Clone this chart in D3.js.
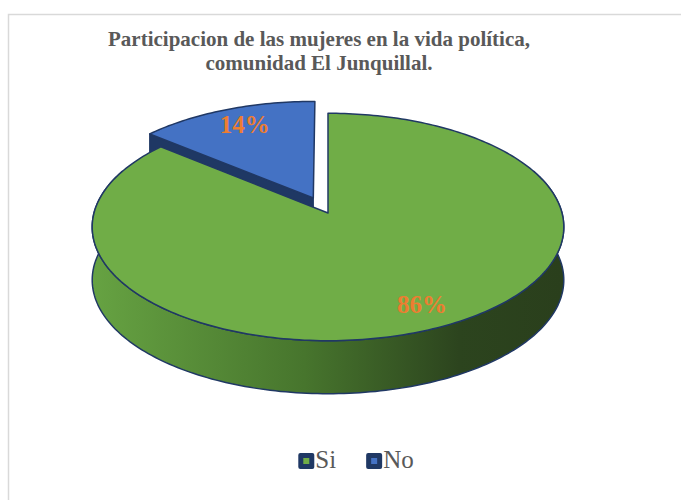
<!DOCTYPE html>
<html>
<head>
<meta charset="utf-8">
<script src="https://cdnjs.cloudflare.com/ajax/libs/d3/7.8.5/d3.min.js"></script>
<style>
	body { margin: 0; background: #fff; }
	svg { display: block; }
</style>
</head>
<body>
<script>
var categories = ["Si", "No"],
	values = [86, 14],
	labels = ["86%", "14%"],
	titleLines = ["Participacion de las mujeres en la vida política,", "comunidad El Junquillal."];

var width = 681,
	height = 500,
	cx = 328,
	cy = 213,
	rx = 234,
	ry = 112,
	persp = 0.123,
	depth = 53,
	explode = [0, 0.15],
	labelR = 0.82,
	font = "Liberation Serif, Times New Roman, serif";

var topColors = ["#70ad47", "#4472c4"],
	edgeColor = "#203864";

var svg = d3.select("body")
	.append("svg")
	.attr("width", width)
	.attr("height", height);

// frame
svg.append("path")
	.attr("d", "M8.5," + (height + 2) + "V14.5H" + (width + 2))
	.style("fill", "none")
	.style("stroke", "#d9d9d9")
	.style("stroke-width", 1.5);

var grad = svg.append("defs")
	.append("linearGradient")
	.attr("id", "sideGreen")
	.attr("gradientUnits", "userSpaceOnUse")
	.attr("x1", cx - rx).attr("x2", cx + rx)
	.attr("y1", 0).attr("y2", 0);
grad.append("stop").attr("offset", "0%").attr("stop-color", "#66a242");
grad.append("stop").attr("offset", "45%").attr("stop-color", "#47752d");
grad.append("stop").attr("offset", "78%").attr("stop-color", "#2c441e");
grad.append("stop").attr("offset", "100%").attr("stop-color", "#2a3f1c");

// unit disk (u right, v toward viewer) -> screen, with a little perspective
function proj(u, v, z) {
	var s = 1 / (1 - persp * v);
	return [cx + rx * u * s, cy + ry * v * s + (z || 0)];
}
function diskPoint(a, r, off) {
	return [Math.sin(a) * r + off[0], -Math.cos(a) * r + off[1]];
}
function offsetOf(d, i) {
	var m = (d.startAngle + d.endAngle) / 2;
	return [Math.sin(m) * explode[i], -Math.cos(m) * explode[i]];
}
function rim(a0, a1, off, z) {
	var n = Math.max(2, Math.ceil(Math.abs(a1 - a0) / 0.02)),
		pts = [];
	for (var k = 0; k <= n; k++) {
		var p = diskPoint(a0 + (a1 - a0) * k / n, 1, off);
		pts.push(proj(p[0], p[1], z));
	}
	return pts;
}

var line = d3.line();

var pie = d3.pie().sort(null).startAngle(0).endAngle(2 * Math.PI);
var arcs = pie(values);

// radial side of the exploded slice (the one facing the viewer)
arcs.forEach(function (d, i) {
	if (!explode[i]) return;
	var off = offsetOf(d, i),
		c = proj(off[0], off[1]),
		p = diskPoint(d.startAngle, 1, off),
		e = proj(p[0], p[1]);
	svg.append("path")
		.attr("d", line([c, e, [e[0], e[1] + depth], [c[0], c[1] + depth]]) + "Z")
		.style("fill", "#1f3864")
		.style("stroke", edgeColor)
		.style("stroke-width", 1.2)
		.style("stroke-linejoin", "round");
});

// outer sides (front half only)
arcs.forEach(function (d, i) {
	var a0 = Math.max(d.startAngle, Math.PI / 2 - 0.4),
		a1 = Math.min(d.endAngle, 3 * Math.PI / 2 + 0.4);
	if (a1 <= a0) return;
	var off = offsetOf(d, i),
		top = rim(a0, a1, off, 0),
		bot = rim(a0, a1, off, depth).reverse();
	svg.append("path")
		.attr("d", line(top.concat(bot)) + "Z")
		.style("fill", i === 0 ? "url(#sideGreen)" : "#1f3864")
		.style("stroke", edgeColor)
		.style("stroke-width", 1.5)
		.style("stroke-linejoin", "round");
});

// top faces, back slice first
[1, 0].forEach(function (i) {
	var d = arcs[i],
		off = offsetOf(d, i),
		c = proj(off[0], off[1]),
		pts = [c].concat(rim(d.startAngle, d.endAngle, off, 0));
	svg.append("path")
		.attr("d", line(pts) + "Z")
		.style("fill", topColors[i])
		.style("stroke", edgeColor)
		.style("stroke-width", 1.5)
		.style("stroke-linejoin", "round");
});

// data labels
svg.selectAll(".lbl")
	.data(arcs)
	.enter()
	.append("text")
	.attr("class", "lbl")
	.attr("x", function (d, i) {
		var m = (d.startAngle + d.endAngle) / 2,
			p = diskPoint(m, labelR, offsetOf(d, i));
		return proj(p[0], p[1])[0] + 4;
	})
	.attr("y", function (d, i) {
		var m = (d.startAngle + d.endAngle) / 2,
			p = diskPoint(m, labelR, offsetOf(d, i));
		return proj(p[0], p[1])[1];
	})
	.attr("dy", "0.35em")
	.attr("text-anchor", "middle")
	.attr("font-family", font)
	.attr("font-weight", "bold")
	.attr("font-size", "25px")
	.attr("fill", "#ed7d31")
	.text(function (d, i) { return labels[i]; });

// title
svg.selectAll(".title")
	.data(titleLines)
	.enter()
	.append("text")
	.attr("class", "title")
	.attr("x", 319)
	.attr("y", function (d, i) { return 46 + i * 24; })
	.attr("text-anchor", "middle")
	.attr("font-family", font)
	.attr("font-weight", "bold")
	.attr("font-size", "21px")
	.attr("fill", "#595959")
	.text(function (d) { return d; });

// legend
var legend = svg.append("g");
var xPos = 0;
categories.forEach(function (c, i) {
	var g = legend.append("g").attr("transform", "translate(" + xPos + ",0)");
	g.append("rect")
		.attr("x", 0).attr("y", -15)
		.attr("width", 16).attr("height", 16)
		.attr("rx", 2)
		.style("fill", "#1f3864");
	g.append("rect")
		.attr("x", 5).attr("y", -10)
		.attr("width", 6).attr("height", 6)
		.style("fill", topColors[i]);
	var t = g.append("text")
		.attr("x", 17).attr("y", 0)
		.attr("font-family", font)
		.attr("font-size", "25px")
		.attr("fill", "#595959")
		.text(c);
	xPos += 17 + t.node().getComputedTextLength() + 30;
});
var lw = xPos - 30;
legend.attr("transform", "translate(" + (356 - lw / 2) + ",468)");
</script>
</body>
</html>
